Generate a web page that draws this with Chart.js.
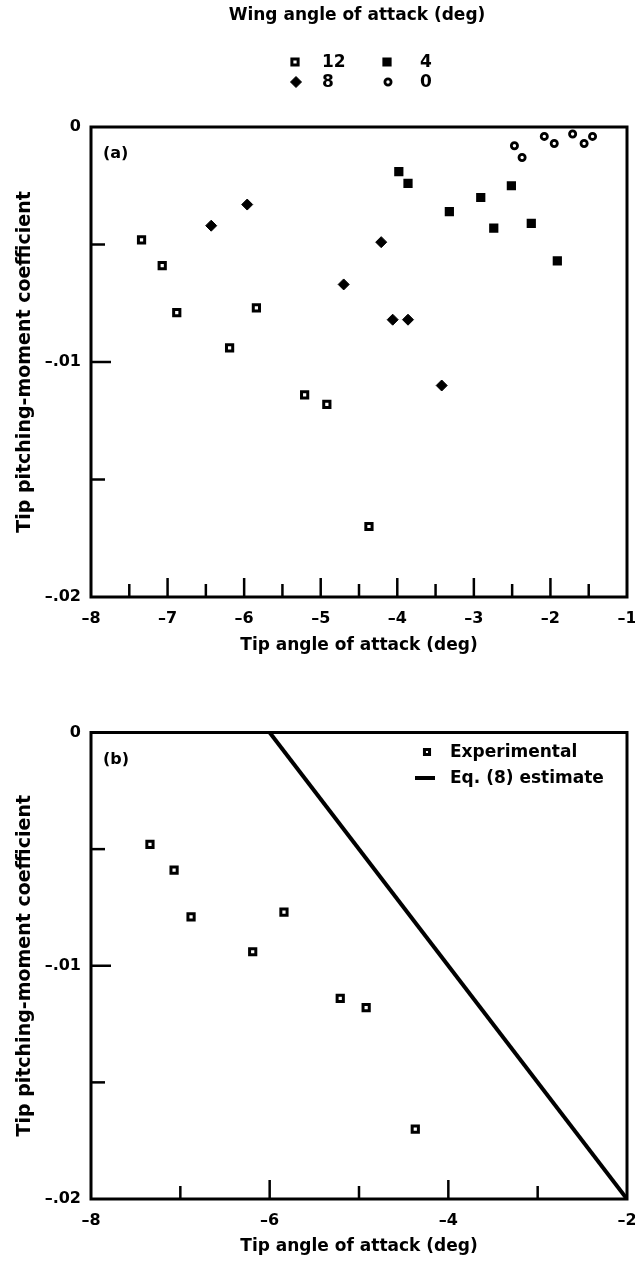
<!DOCTYPE html>
<html>
<head>
<meta charset="utf-8">
<script src="https://cdn.jsdelivr.net/npm/chart.js@4.4.1/dist/chart.umd.min.js"></script>
<style>
    html, body { margin: 0; padding: 0; background: #fff; }
    canvas { position: absolute; left: 0; }
    #chartA { top: 0; }
    #chartB { top: 660px; }
</style>
</head>
<body>
<canvas id="chartA" width="635" height="660"></canvas>
<canvas id="chartB" width="635" height="601"></canvas>
<script>
// wing angle of attack 12 deg (open squares) - also the "Experimental" points of (b)
const wing12X = [-7.34, -7.07, -6.88, -6.19, -5.84, -5.21, -4.92, -4.37];
const wing12Y = [-0.0048, -0.0059, -0.0079, -0.0094, -0.0077, -0.0114, -0.0118, -0.0170];

// wing 8 deg (diamonds)
const wing8X = [-6.43, -5.96, -4.70, -4.21, -4.06, -3.86, -3.42];
const wing8Y = [-0.0042, -0.0033, -0.0067, -0.0049, -0.0082, -0.0082, -0.0110];

// wing 4 deg (filled squares)
const wing4X = [-3.98, -3.86, -3.32, -2.91, -2.74, -2.51, -2.25, -1.91];
const wing4Y = [-0.0019, -0.0024, -0.0036, -0.0030, -0.0043, -0.0025, -0.0041, -0.0057];

// wing 0 deg (open circles)
const wing0X = [-2.47, -2.37, -2.08, -1.95, -1.71, -1.56, -1.45];
const wing0Y = [-0.0008, -0.0013, -0.0004, -0.0007, -0.0003, -0.0007, -0.0004];

// Eq. (8) estimate
const estimateX = [-6, -2];
const estimateY = [0, -0.02];

// axes
const xLabelsA = [-8, -7, -6, -5, -4, -3, -2, -1];
const xMajorA = [-7, -6, -5, -4, -3, -2];
const xMinorA = [-7.5, -6.5, -5.5, -4.5, -3.5, -2.5, -1.5];
const xLabelsB = [-8, -6, -4, -2];
const xMajorB = [-6, -4];
const xMinorB = [-7, -5, -3];
const yLabels = [-0.02, -0.01, 0];
const yMajor = [-0.01];
const yMinor = [-0.015, -0.005];

const FONT = 'DejaVu Sans';
const INK = '#000';

const toPoints = (xs, ys) => xs.map((x, i) => ({x: x, y: ys[i]}));

const styles = {
    wing12: {pointStyle: 'rect', radius: 4.4, borderWidth: 3, backgroundColor: '#fff'},
    wing4: {pointStyle: 'rect', radius: 4.4, borderWidth: 3, backgroundColor: INK},
    wing8: {pointStyle: 'rectRot', radius: 5.5, borderWidth: 1, backgroundColor: INK},
    wing0: {pointStyle: 'circle', radius: 3.1, borderWidth: 2.8, backgroundColor: '#fff'}
};

function scatterSet(label, xs, ys, style) {
    return {
        type: 'scatter',
        label: label,
        data: toPoints(xs, ys),
        pointStyle: style.pointStyle,
        pointRadius: style.radius,
        pointBorderWidth: style.borderWidth,
        pointBackgroundColor: style.backgroundColor,
        pointBorderColor: INK,
        showLine: false
    };
}

function fmtX(v) {
    return v < 0 ? '\u2013' + Math.abs(v) : String(v);
}

function fmtY(v) {
    if (Math.abs(v) < 1e-9) {
        return '0';
    }
    return '\u2013' + Math.abs(v).toFixed(2).replace(/^0/, '');
}

// inward tick marks, plot frame and panel tag
const framePlugin = {
    id: 'frame',
    afterDatasetsDraw(chart, args, opts) {
        const {ctx, chartArea: a, scales: {x, y}} = chart;
        ctx.save();
        ctx.strokeStyle = INK;
        ctx.lineCap = 'butt';
        ctx.lineWidth = 2.5;

        const vTick = (v, len) => {
            const px = x.getPixelForValue(v);
            ctx.beginPath();
            ctx.moveTo(px, a.bottom);
            ctx.lineTo(px, a.bottom - len);
            ctx.stroke();
        };
        const hTick = (v, len) => {
            const py = y.getPixelForValue(v);
            ctx.beginPath();
            ctx.moveTo(a.left, py);
            ctx.lineTo(a.left + len, py);
            ctx.stroke();
        };

        opts.xMajor.forEach(v => vTick(v, 19));
        opts.xMinor.forEach(v => vTick(v, 13));
        yMajor.forEach(v => hTick(v, 20));
        yMinor.forEach(v => hTick(v, 14));

        ctx.lineWidth = 3;
        ctx.strokeRect(a.left, a.top, a.width, a.height);

        ctx.fillStyle = INK;
        ctx.font = 'bold 16px ' + FONT;
        ctx.textAlign = 'left';
        ctx.textBaseline = 'middle';
        ctx.fillText(opts.tag, a.left + 12, a.top + 27);
        ctx.restore();
    }
};

// hand-placed key (2 x 2 grid in (a), stacked in (b))
const keyPlugin = {
    id: 'key',
    afterDraw(chart, args, opts) {
        const ctx = chart.ctx;
        ctx.save();
        ctx.fillStyle = INK;
        ctx.strokeStyle = INK;
        ctx.textBaseline = 'middle';
        ctx.font = 'bold 17px ' + FONT;

        if (opts.title) {
            ctx.textAlign = 'center';
            ctx.fillText(opts.title, opts.titleX, opts.titleY);
        }

        ctx.textAlign = 'left';
        opts.items.forEach(item => {
            if (item.style === 'line') {
                ctx.lineWidth = 4;
                ctx.beginPath();
                ctx.moveTo(item.x - 10, item.y);
                ctx.lineTo(item.x + 10, item.y);
                ctx.stroke();
            } else {
                const s = styles[item.style];
                ctx.lineWidth = s.borderWidth;
                ctx.fillStyle = s.backgroundColor;
                Chart.helpers.drawPoint(ctx, {
                    pointStyle: s.pointStyle,
                    radius: item.radius || s.radius,
                    borderWidth: s.borderWidth,
                    rotation: 0
                }, item.x, item.y);
                ctx.fillStyle = INK;
            }
            ctx.fillText(item.label, item.labelX, item.y + 1);
        });
        ctx.restore();
    }
};

function axisTitle(text, size, padding) {
    return {
        display: true,
        text: text,
        color: INK,
        font: {family: FONT, size: size, weight: 'bold'},
        padding: padding
    };
}

function buildOptions(cfg) {
    return {
        responsive: false,
        animation: false,
        devicePixelRatio: 1,
        layout: {padding: {top: cfg.top, right: 8, left: 0, bottom: 0}},
        plugins: {
            legend: {display: false},
            tooltip: {enabled: false},
            frame: {xMajor: cfg.xMajor, xMinor: cfg.xMinor, tag: cfg.tag},
            key: cfg.key
        },
        scales: {
            x: {
                type: 'linear',
                min: cfg.xMin,
                max: cfg.xMax,
                grid: {display: false, drawTicks: false},
                border: {display: false},
                afterBuildTicks: scale => {
                    scale.ticks = cfg.xLabels.map(v => ({value: v}));
                },
                afterFit: scale => {
                    scale.height = cfg.xHeight;
                    scale.paddingLeft = 0;
                    scale.paddingRight = 0;
                },
                ticks: {
                    color: INK,
                    padding: 12,
                    maxRotation: 0,
                    autoSkip: false,
                    font: {family: FONT, size: 16, weight: 'bold'},
                    callback: v => fmtX(v)
                },
                title: axisTitle('Tip angle of attack (deg)', 17, {top: 0, bottom: 4})
            },
            y: {
                type: 'linear',
                min: -0.02,
                max: 0,
                grid: {display: false, drawTicks: false},
                border: {display: false},
                afterBuildTicks: scale => {
                    scale.ticks = yLabels.map(v => ({value: v}));
                },
                afterFit: scale => {
                    scale.width = 91;
                    scale.paddingTop = 0;
                    scale.paddingBottom = 0;
                },
                ticks: {
                    color: INK,
                    padding: 10,
                    autoSkip: false,
                    font: {family: FONT, size: 16, weight: 'bold'},
                    callback: v => fmtY(v)
                },
                title: axisTitle('Tip pitching-moment coefficient', 19, {top: 14, bottom: 0})
            }
        }
    };
}

new Chart(document.getElementById('chartA'), {
    type: 'scatter',
    data: {
        datasets: [
            scatterSet('12', wing12X, wing12Y, styles.wing12),
            scatterSet('4', wing4X, wing4Y, styles.wing4),
            scatterSet('8', wing8X, wing8Y, styles.wing8),
            scatterSet('0', wing0X, wing0Y, styles.wing0)
        ]
    },
    options: buildOptions({
        top: 127,
        xMin: -8,
        xMax: -1,
        xLabels: xLabelsA,
        xMajor: xMajorA,
        xMinor: xMinorA,
        xHeight: 63,
        tag: '(a)',
        key: {
            title: 'Wing angle of attack (deg)',
            titleX: 357,
            titleY: 16,
            items: [
                {style: 'wing12', label: '12', x: 295, y: 62, labelX: 322},
                {style: 'wing4', label: '4', x: 387, y: 62, labelX: 420},
                {style: 'wing8', label: '8', x: 296, y: 82, labelX: 322},
                {style: 'wing0', label: '0', x: 388, y: 82, labelX: 420}
            ]
        }
    }),
    plugins: [framePlugin, keyPlugin]
});

new Chart(document.getElementById('chartB'), {
    data: {
        datasets: [
            scatterSet('Experimental', wing12X, wing12Y, styles.wing12),
            {
                type: 'line',
                label: 'Eq. (8) estimate',
                data: toPoints(estimateX, estimateY),
                borderColor: INK,
                borderWidth: 4,
                pointRadius: 0,
                fill: false,
                tension: 0
            }
        ]
    },
    options: buildOptions({
        top: 72.5,
        xMin: -8,
        xMax: -2,
        xLabels: xLabelsB,
        xMajor: xMajorB,
        xMinor: xMinorB,
        xHeight: 62,
        tag: '(b)',
        key: {
            items: [
                {style: 'wing12', label: 'Experimental', x: 427, y: 92, labelX: 450, radius: 3.6},
                {style: 'line', label: 'Eq. (8) estimate', x: 425, y: 118, labelX: 450}
            ]
        }
    }),
    plugins: [framePlugin, keyPlugin]
});
</script>
</body>
</html>
